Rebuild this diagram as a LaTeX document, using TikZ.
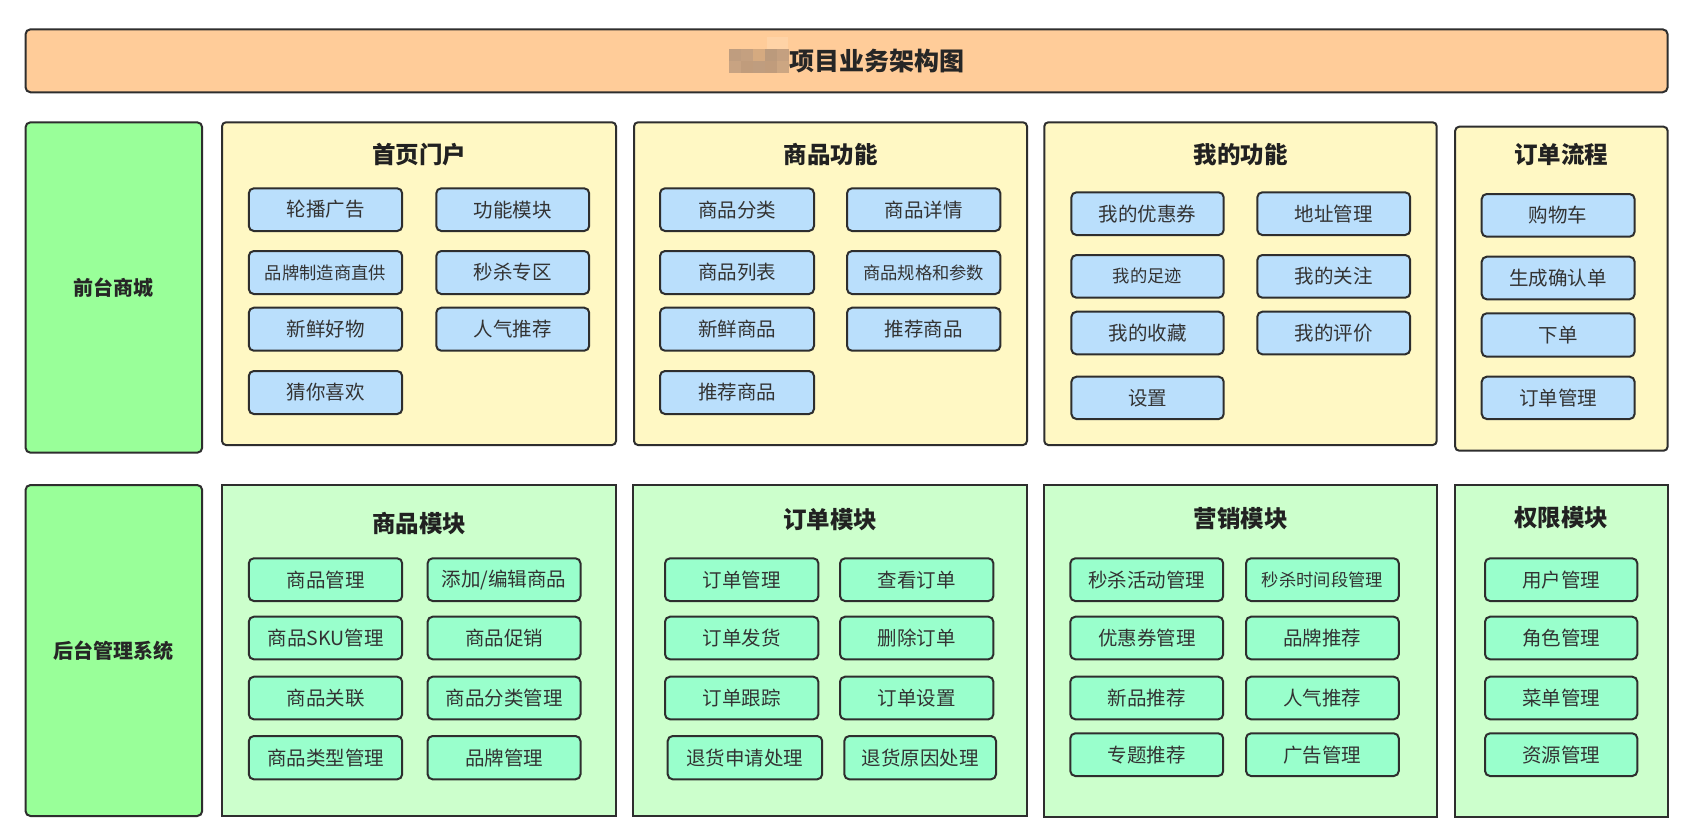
\documentclass[tikz,border=0pt]{standalone}
\usepackage{fontspec}
\newfontfamily\cjk{Noto Sans CJK SC}
\definecolor{bd}{HTML}{2E2E2E}
\definecolor{txt}{HTML}{333333}
\definecolor{titlefill}{HTML}{FFCC99}
\definecolor{sidefill}{HTML}{99FF99}
\definecolor{toppanel}{HTML}{FFF8C4}
\definecolor{botpanel}{HTML}{CCFFCC}
\definecolor{itemblue}{HTML}{BADFFC}
\definecolor{itemmint}{HTML}{99FFCC}
\definecolor{mzA}{HTML}{BF9D7F}
\definecolor{mzB}{HTML}{C4A080}
\definecolor{mzC}{HTML}{D5AA80}
\definecolor{mzD}{HTML}{BB9A7C}
\definecolor{mzE}{HTML}{C8A382}
\definecolor{mzF}{HTML}{C09C7C}
\definecolor{mzG}{HTML}{CCA682}
\definecolor{mzH}{HTML}{FFD3A6}
\newcommand\mybox[7]{%
  \node[#1, minimum width={(#5-#3)*1pt}, minimum height={(#6-#4)*1pt}] (#2) at ({(#3+#5)/2},{(#4+#6)/2}) {#7};}
\tikzset{
  base/.style={draw=bd, line width=2pt, inner sep=0pt, text=txt},
  titlebar/.style={base, fill=titlefill, rounded corners=5pt},
  side/.style={base, fill=sidefill, rounded corners=5pt, font=\cjk\bfseries\fontsize{20}{22}\selectfont, text=black!85},
  tpanel/.style={base, fill=toppanel, rounded corners=4pt},
  bpanel/.style={base, fill=botpanel},
  item/.style={base, rounded corners=5pt, font=\cjk\fontsize{19.5}{21}\selectfont},
  blue/.style={item, fill=itemblue},
  mint/.style={item, fill=itemmint},
  small/.style={font=\cjk\fontsize{17.3}{19}\selectfont},
  ptitle/.style={font=\cjk\bfseries\fontsize{23.5}{25}\selectfont, text=black!87, inner sep=0pt},
  maintitle/.style={font=\cjk\bfseries\fontsize{25}{27}\selectfont, text=black!85, inner sep=0pt},
}
\begin{document}
\begin{tikzpicture}[x=1pt,y=-1pt]
\fill[white] (0,0) rectangle (1694,831);
\useasboundingbox (0,0) rectangle (1694,831);
% title bar
\mybox{titlebar}{bar}{25.5}{29.3}{1667.6}{92.3}{}
% mosaic (blurred part of the title)
\fill[mzH] (767,37) rectangle (788,49.3);
\fill[mzA] (729,49.3) rectangle (741,61.3);
\fill[mzB] (741,49.3) rectangle (753,61.3);
\fill[mzC] (753,49.3) rectangle (765,61.3);
\fill[mzD] (765,49.3) rectangle (777,61.3);
\fill[mzB] (777,49.3) rectangle (789,61.3);
\fill[mzE] (729,61.3) rectangle (741,73.3);
\fill[mzF] (741,61.3) rectangle (753,73.3);
\fill[mzA] (753,61.3) rectangle (765,73.3);
\fill[mzF] (765,61.3) rectangle (777,73.3);
\fill[mzG] (777,61.3) rectangle (789,73.3);
\node[maintitle] (maintitle) at (877,61.5) {项目业务架构图};
% side labels
\mybox{side}{front}{25.5}{122.3}{202.2}{452.7}{前台商城}
\mybox{side}{back}{25.5}{485}{202.2}{816}{后台管理系统}
% top panels
\mybox{tpanel}{p1}{222}{122.3}{616}{445}{}
\mybox{tpanel}{p2}{634}{122.3}{1027}{445}{}
\mybox{tpanel}{p3}{1044.3}{122.3}{1436.7}{445}{}
\mybox{tpanel}{p4}{1455.2}{126.7}{1667.6}{450.7}{}
\node[ptitle] (p1t) at (419,155) {首页门户};
\node[ptitle] (p2t) at (830.5,155) {商品功能};
\node[ptitle] (p3t) at (1240.5,155) {我的功能};
\node[ptitle] (p4t) at (1561.4,155) {订单流程};
% P1 items
\mybox{blue}{a1}{248.8}{188.3}{402.2}{231}{轮播广告}
\mybox{blue}{a2}{436.3}{188.3}{589.2}{231}{功能模块}
\mybox{blue,small}{a3}{248.8}{251}{402.2}{294}{品牌制造商直供}
\mybox{blue}{a4}{436.3}{251}{589.2}{294}{秒杀专区}
\mybox{blue}{a5}{248.8}{307.7}{402.2}{350.7}{新鲜好物}
\mybox{blue}{a6}{436.3}{307.7}{589.2}{350.7}{人气推荐}
\mybox{blue}{a7}{248.8}{371}{402.2}{414}{猜你喜欢}
% P2 items
\mybox{blue}{b1}{660}{188.3}{814}{231}{商品分类}
\mybox{blue}{b2}{847}{188.3}{1000.4}{231}{商品详情}
\mybox{blue}{b3}{660}{251}{814}{294}{商品列表}
\mybox{blue,small}{b4}{847}{251}{1000.4}{294}{商品规格和参数}
\mybox{blue}{b5}{660}{307.7}{814}{350.7}{新鲜商品}
\mybox{blue}{b6}{847}{307.7}{1000.4}{350.7}{推荐商品}
\mybox{blue}{b7}{660}{371}{814}{414}{推荐商品}
% P3 items
\mybox{blue}{c1}{1071.4}{192.3}{1223.7}{235}{我的优惠券}
\mybox{blue}{c2}{1257.3}{192.3}{1410.2}{235}{地址管理}
\mybox{blue,small}{c3}{1071.4}{255}{1223.7}{297.7}{我的足迹}
\mybox{blue}{c4}{1257.3}{255}{1410.2}{297.7}{我的关注}
\mybox{blue}{c5}{1071.4}{311.7}{1223.7}{354.3}{我的收藏}
\mybox{blue}{c6}{1257.3}{311.7}{1410.2}{354.3}{我的评价}
\mybox{blue}{c7}{1071.4}{376.7}{1223.7}{419}{设置}
% P4 items
\mybox{blue}{d1}{1481.7}{194}{1634.6}{236.7}{购物车}
\mybox{blue}{d2}{1481.7}{256.7}{1634.6}{299.3}{生成确认单}
\mybox{blue}{d3}{1481.7}{313.3}{1634.6}{356.7}{下单}
\mybox{blue}{d4}{1481.7}{376.7}{1634.6}{419}{订单管理}
% bottom panels
\mybox{bpanel}{q1}{222}{485}{616}{816}{}
\mybox{bpanel}{q2}{633}{485}{1027}{816}{}
\mybox{bpanel}{q3}{1044.3}{485}{1436.7}{816.7}{}
\mybox{bpanel}{q4}{1455.2}{485}{1667.6}{816.7}{}
\node[ptitle] (q1t) at (419,523.3) {商品模块};
\node[ptitle] (q2t) at (830,520) {订单模块};
\node[ptitle] (q3t) at (1240.5,518.3) {营销模块};
\node[ptitle] (q4t) at (1561.4,518) {权限模块};
% Q1 items
\mybox{mint}{e1}{248.8}{558.3}{402.2}{601}{商品管理}
\mybox{mint}{e2}{427.6}{558.3}{580.5}{601}{添加/编辑商品}
\mybox{mint}{e3}{248.8}{616.7}{402.2}{659.3}{商品SKU管理}
\mybox{mint}{e4}{427.6}{616.7}{580.5}{659.3}{商品促销}
\mybox{mint}{e5}{248.8}{676.7}{402.2}{719.3}{商品关联}
\mybox{mint}{e6}{427.6}{676.7}{580.5}{719.3}{商品分类管理}
\mybox{mint}{e7}{248.8}{736}{402.2}{779.3}{商品类型管理}
\mybox{mint}{e8}{427.6}{736}{580.5}{779.3}{品牌管理}
% Q2 items
\mybox{mint}{f1}{665}{558.3}{818.4}{601}{订单管理}
\mybox{mint}{f2}{840}{558.3}{993.4}{601}{查看订单}
\mybox{mint}{f3}{665}{616.7}{818.4}{659.3}{订单发货}
\mybox{mint}{f4}{840}{616.7}{993.4}{659.3}{删除订单}
\mybox{mint}{f5}{665}{676.7}{818.4}{719.3}{订单跟踪}
\mybox{mint}{f6}{840}{676.7}{993.4}{719.3}{订单设置}
\mybox{mint}{f7}{667.7}{736}{822.2}{779.3}{退货申请处理}
\mybox{mint}{f8}{844.3}{736}{996}{779.3}{退货原因处理}
% Q3 items
\mybox{mint}{g1}{1070.3}{558.3}{1223.2}{601}{秒杀活动管理}
\mybox{mint,small}{g2}{1246}{558.3}{1398.8}{601}{秒杀时间段管理}
\mybox{mint}{g3}{1070.3}{616.7}{1223.2}{659.3}{优惠券管理}
\mybox{mint}{g4}{1246}{616.7}{1398.8}{659.3}{品牌推荐}
\mybox{mint}{g5}{1070.3}{676.7}{1223.2}{719.3}{新品推荐}
\mybox{mint}{g6}{1246}{676.7}{1398.8}{719.3}{人气推荐}
\mybox{mint}{g7}{1070.3}{733.3}{1223.2}{776}{专题推荐}
\mybox{mint}{g8}{1246}{733.3}{1398.8}{776}{广告管理}
% Q4 items
\mybox{mint}{h1}{1485}{558.3}{1637.3}{601}{用户管理}
\mybox{mint}{h2}{1485}{616.7}{1637.3}{659.3}{角色管理}
\mybox{mint}{h3}{1485}{676.7}{1637.3}{719.3}{菜单管理}
\mybox{mint}{h4}{1485}{733.3}{1637.3}{776}{资源管理}
\end{tikzpicture}
\end{document}
